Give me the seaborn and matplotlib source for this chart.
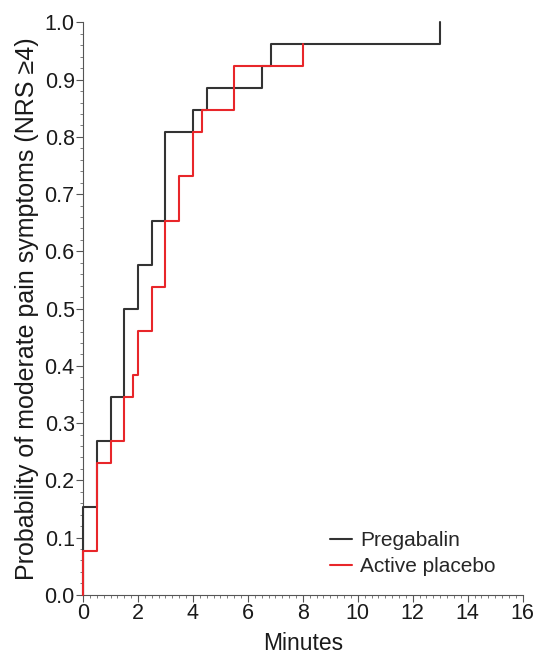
import seaborn as sns
import matplotlib.pyplot as plt
import matplotlib.ticker as mticker
import pandas as pd

# Kaplan-Meier style cumulative curves (n = 26 per group)
preg_minutes = [0, 0, 0.5, 1, 1.5, 2, 2.5, 3, 4, 4.5, 6.5, 6.85, 13]
preg_counts = [0, 4, 7, 9, 13, 15, 17, 21, 22, 23, 24, 25, 26]

plac_minutes = [0, 0, 0.5, 1, 1.5, 1.83, 2, 2.5, 3, 3.5, 4, 4.33, 5.5, 8]
plac_counts = [0, 2, 6, 7, 9, 10, 12, 14, 17, 19, 21, 22, 24, 25]

n_patients = 26

df = pd.concat([
    pd.DataFrame({'Minutes': preg_minutes,
                  'Probability': [c / n_patients for c in preg_counts],
                  'Group': 'Pregabalin'}),
    pd.DataFrame({'Minutes': plac_minutes,
                  'Probability': [c / n_patients for c in plac_counts],
                  'Group': 'Active placebo'}),
], ignore_index=True)

sns.set_style('ticks')
plt.rcParams['font.family'] = ['Liberation Sans', 'DejaVu Sans']

fig = plt.figure(figsize=(5.36, 6.58), dpi=100)
ax = fig.add_axes([0.155, 0.096, 0.82, 0.870])

sns.lineplot(data=df, x='Minutes', y='Probability', hue='Group',
             palette={'Pregabalin': '#333333', 'Active placebo': '#e8262a'},
             estimator=None, sort=False, drawstyle='steps-post',
             linewidth=1.5, ax=ax)
for line in ax.lines:
    line.set_clip_on(False)
    line.set_zorder(3)

ax.set_xlim(0, 16)
ax.set_ylim(0, 1.0)
ax.xaxis.set_major_locator(mticker.MultipleLocator(2))
ax.xaxis.set_minor_locator(mticker.MultipleLocator(0.25))
ax.yaxis.set_major_locator(mticker.MultipleLocator(0.1))
ax.yaxis.set_minor_locator(mticker.MultipleLocator(0.02))
ax.yaxis.set_major_formatter(mticker.FormatStrFormatter('%.1f'))
ax.tick_params(which='major', length=5, width=0.8, labelsize=15.5,
               colors='#555555', labelcolor='#1a1a1a', pad=1)
ax.tick_params(which='minor', length=2.5, width=0.6, colors='#666666')
for side in ['top', 'right']:
    ax.spines[side].set_visible(False)
for side in ['left', 'bottom']:
    ax.spines[side].set_color('#555555')
    ax.spines[side].set_linewidth(0.8)

ax.set_xlabel('Minutes', fontsize=16.5, labelpad=6, color='#1a1a1a')
ax.set_ylabel('Probability of moderate pain symptoms (NRS \u22654)',
              fontsize=18, labelpad=4, color='#1a1a1a')

ax.legend(loc='upper left', frameon=False, fontsize=15, handlelength=1.05,
          handletextpad=0.4, labelspacing=0.35, borderpad=0, borderaxespad=0,
          bbox_to_anchor=(330 / 536, 1 - 531 / 658),
          bbox_transform=fig.transFigure)

plt.savefig('out.png', dpi=100)
